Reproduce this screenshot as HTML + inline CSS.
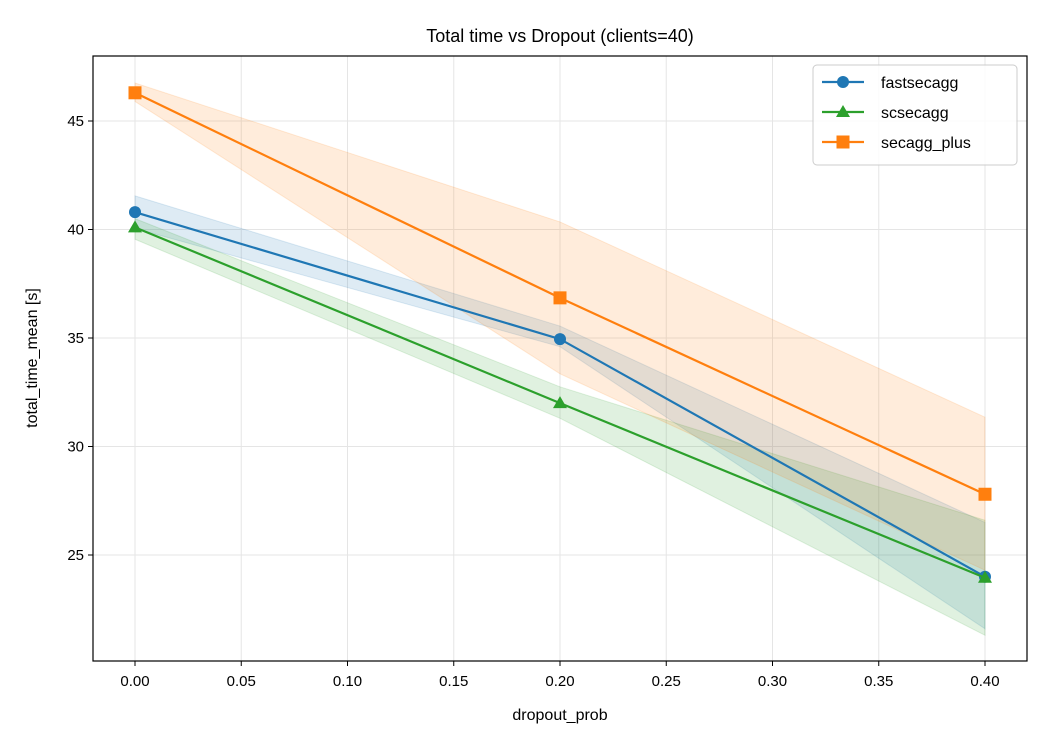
<!DOCTYPE html>
<html><head><meta charset="utf-8"><style>
body{margin:0;background:#fff;}
svg text{font-family:"Liberation Sans","DejaVu Sans",sans-serif;fill:#000;}
</style></head><body>
<svg id="chart" width="1050" height="750" xmlns="http://www.w3.org/2000/svg">
<rect width="1050" height="750" fill="#fff"/>
<g id="grid"></g><g id="bands"></g><g id="lines"></g>
<rect x="93" y="56" width="934" height="605" fill="none" stroke="#000" stroke-width="1.2"/>
<g id="axes"></g>
<text x="560" y="42" font-size="18" text-anchor="middle">Total time vs Dropout (clients=40)</text>
<text x="560" y="720" font-size="16" text-anchor="middle">dropout_prob</text>
<text transform="translate(37,358) rotate(-90)" font-size="16" text-anchor="middle">total_time_mean [s]</text>
<g id="legend"></g>
</svg>
<script>
const xs=[0,0.2,0.4];
const seriesNames=["fastsecagg","scsecagg","secagg_plus"];
const fastMean=[40.8,34.95,24.0];
const fastLo=[40.05,34.6,21.6];
const fastHi=[41.55,35.55,26.5];
const scMean=[40.1,32.0,23.95];
const scLo=[39.55,31.3,21.3];
const scHi=[40.5,32.75,26.6];
const plusMean=[46.3,36.85,27.8];
const plusLo=[45.9,33.35,24.3];
const plusHi=[46.75,40.35,31.35];
const xTicks=[0,0.05,0.1,0.15,0.2,0.25,0.3,0.35,0.4];
const yTicks=[25,30,35,40,45];
const colors=["#1f77b4","#2ca02c","#ff7f0e"];
const NS="http://www.w3.org/2000/svg";
const X=v=>135+v*2125, Y=v=>555-(v-25)*21.7;
function mk(t,a,p){const e=document.createElementNS(NS,t);for(const k in a)e.setAttribute(k,a[k]);document.getElementById(p).appendChild(e);return e;}
xTicks.forEach(t=>{
 const l=mk('line',{x1:X(t),x2:X(t),y1:56,y2:661,stroke:'#e5e5e5','stroke-width':1},'grid');
 
 
 mk('line',{x1:X(t),x2:X(t),y1:661,y2:666,stroke:'#000'},'axes');
 const tx=mk('text',{x:X(t),y:686,'font-size':15,'text-anchor':'middle'},'axes');tx.textContent=t.toFixed(2);
 
 
});
yTicks.forEach(t=>{
 const l=mk('line',{x1:93,x2:1027,y1:Y(t),y2:Y(t),stroke:'#e5e5e5','stroke-width':1},'grid');
 
 
 mk('line',{x1:88,x2:93,y1:Y(t),y2:Y(t),stroke:'#000'},'axes');
 const tx=mk('text',{x:84,y:Y(t)+5,'font-size':15,'text-anchor':'end'},'axes');tx.textContent=t;
 
 
});
const all=[[fastMean,fastLo,fastHi],[scMean,scLo,scHi],[plusMean,plusLo,plusHi]];
all.forEach((s,i)=>{
 const [m,lo,hi]=s;
 let pts=xs.map((x,j)=>X(x)+','+Y(hi[j])).concat(xs.map((x,j)=>X(x)+','+Y(lo[j])).reverse());
 const b=mk('polygon',{points:pts.join(' '),fill:colors[i],'fill-opacity':0.15,stroke:colors[i],'stroke-opacity':0.15},'bands');
 
 
});
function marker(i,cx,cy,p){
 let e;
 if(i==0)e=mk('circle',{cx:cx,cy:cy,r:6,fill:colors[i]},p);
 else if(i==1)e=mk('polygon',{points:`${cx},${cy-7} ${cx+7},${cy+5} ${cx-7},${cy+5}`,fill:colors[i]},p);
 else e=mk('rect',{x:cx-6.5,y:cy-6.5,width:13,height:13,fill:colors[i]},p);
 return e;
}
all.forEach((s,i)=>{
 const m=s[0];
 const pl=mk('polyline',{points:xs.map((x,j)=>X(x)+','+Y(m[j])).join(' '),fill:'none',stroke:colors[i],'stroke-width':2.2},'lines');
 
 
 xs.forEach((x,j)=>{const e=marker(i,X(x),Y(m[j]),'lines');
  
  });
});
const lb=mk('rect',{x:813,y:65,width:204,height:100,rx:4,fill:'#fff','fill-opacity':0.85,stroke:'#ccc'},'legend');


seriesNames.forEach((n,i)=>{
 const y=82+i*30;
 const l=mk('line',{x1:822,x2:864,y1:y,y2:y,stroke:colors[i],'stroke-width':2.2},'legend');
 
 
 marker(i,843,y,'legend');
 const t=mk('text',{x:881,y:y+6,'font-size':16},'legend');t.textContent=n;
 
 
});
</script>
</body></html>
